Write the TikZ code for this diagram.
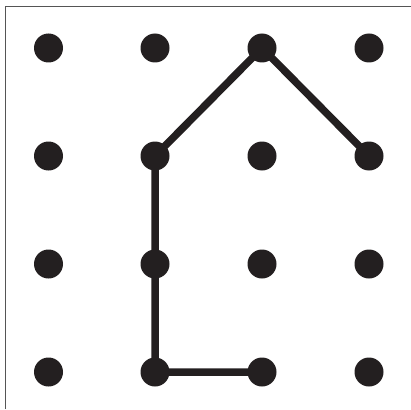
\documentclass[tikz,border=0pt]{standalone}
\begin{document}
\begin{tikzpicture}[x=1pt,y=-1pt,
  dot/.style={circle,fill=dotc,inner sep=0pt,minimum size=29pt},
  link/.style={draw=dotc,line width=7.5pt,line cap=round,line join=round}]
\definecolor{dotc}{HTML}{231F20}
\definecolor{framec}{HTML}{555555}
\useasboundingbox (0,0) rectangle (411,409);
\draw[framec,line width=1.5pt] (5.5,409) -- (5.5,6.5) -- (411,6.5);
\foreach \i/\x in {1/48.5,2/155,3/262,4/369}{
  \foreach \j/\y in {1/48,2/156,3/264,4/372}{
    \node[dot] (d\i\j) at (\x,\y) {};
  }
}
\draw[link] (d31.center) -- (d22.center) -- (d23.center) -- (d24.center) -- (d34.center);
\draw[link] (d31.center) -- (d42.center);
\end{tikzpicture}
\end{document}
